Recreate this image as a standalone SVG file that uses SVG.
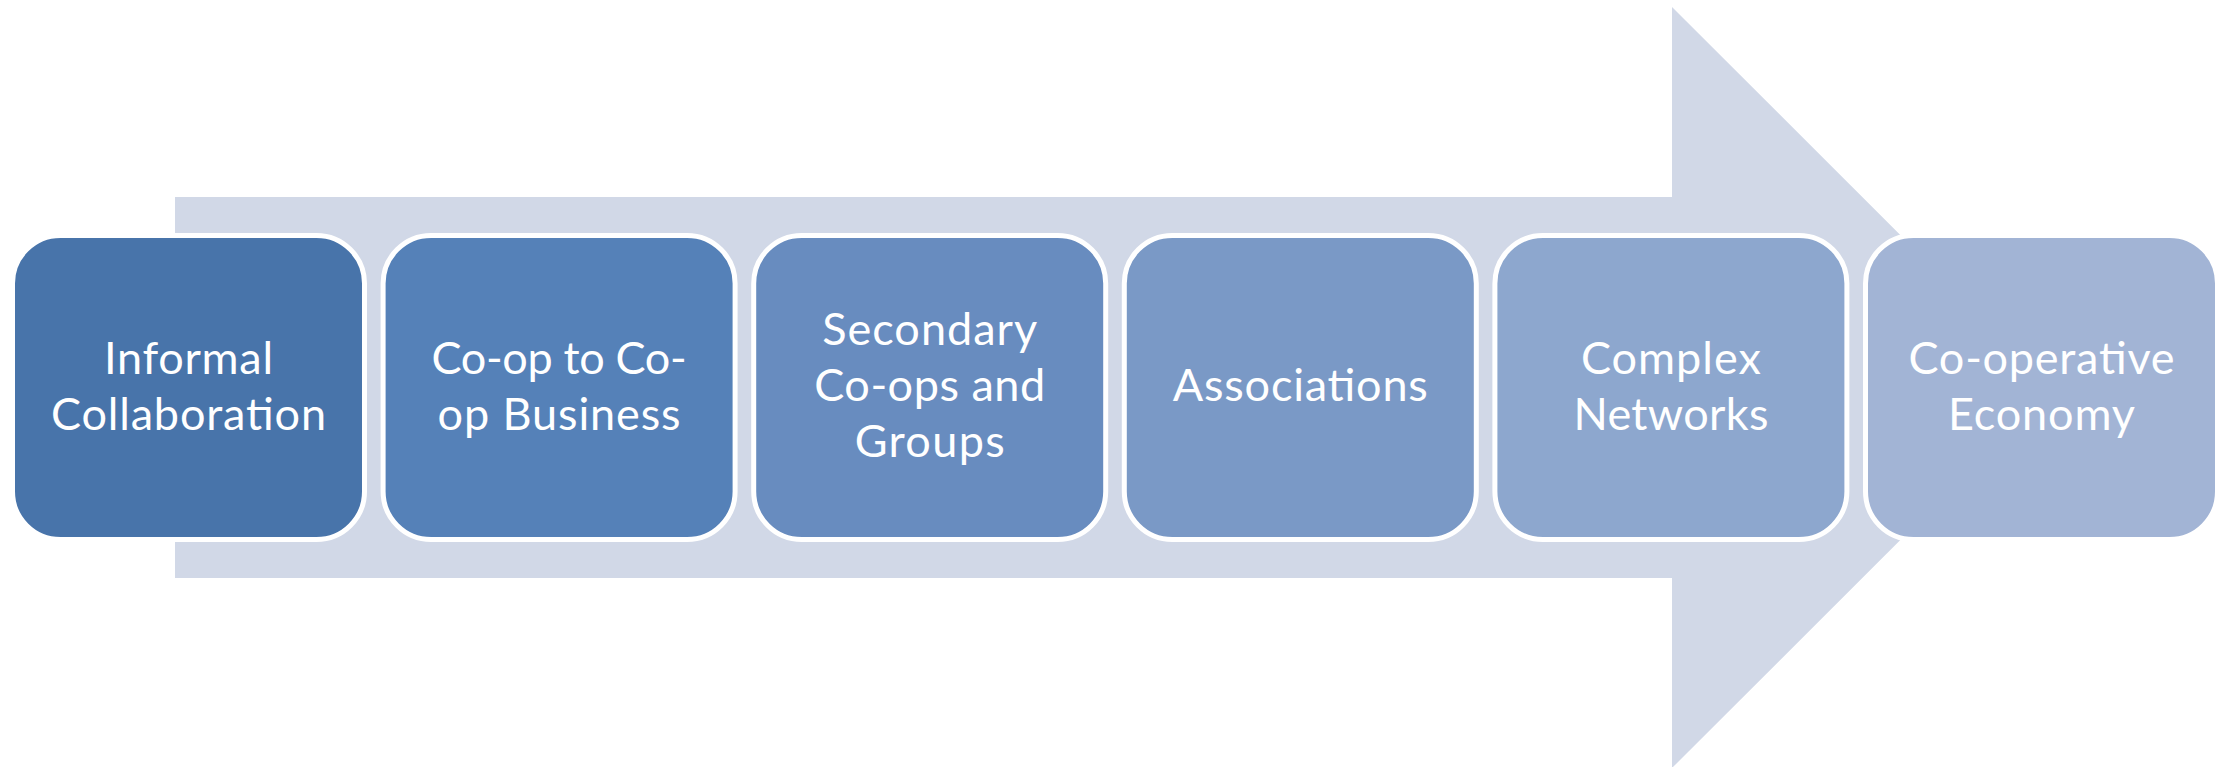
<svg xmlns="http://www.w3.org/2000/svg" width="2231" height="767" viewBox="0 0 2231 767">
<style>
.box{stroke:#FFFFFF;stroke-width:5}
.lbl{font-family:Lato,"Liberation Sans",sans-serif;font-weight:400;font-size:45px;fill:#FFFFFF;text-anchor:middle}
</style>
<rect width="2231" height="767" fill="#FFFFFF"/>
<g id="connectors">
<polygon id="arrow" points="175,197 1672,197 1672,7 2053,387.5 1672,768 1672,578 175,578" fill="#D1D8E7"/>
</g>
<g id="node1"><rect class="box" x="12.5" y="235.5" width="352" height="304" rx="48" fill="#4874AA"/>
<text class="lbl"><tspan x="188.5" y="374" textLength="169" lengthAdjust="spacing">Informal</tspan><tspan x="188.5" y="430" textLength="275" lengthAdjust="spacing">Collaboration</tspan></text></g>
<g id="node2"><rect class="box" x="383.1" y="235.5" width="352" height="304" rx="48" fill="#5581B8"/>
<text class="lbl"><tspan x="559.1" y="374" textLength="255" lengthAdjust="spacing">Co-op to Co-</tspan><tspan x="559.1" y="430" textLength="243" lengthAdjust="spacing">op Business</tspan></text></g>
<g id="node3"><rect class="box" x="753.7" y="235.5" width="352" height="304" rx="48" fill="#688CBF"/>
<text class="lbl"><tspan x="929.7" y="345" textLength="215" lengthAdjust="spacing">Secondary</tspan><tspan x="929.7" y="401" textLength="231" lengthAdjust="spacing">Co-ops and</tspan><tspan x="929.7" y="457" textLength="150" lengthAdjust="spacing">Groups</tspan></text></g>
<g id="node4"><rect class="box" x="1124.3" y="235.5" width="352" height="304" rx="48" fill="#7A99C6"/>
<text class="lbl" x="1300.3" y="401" textLength="255" lengthAdjust="spacing">Associations</text></g>
<g id="node5"><rect class="box" x="1494.9" y="235.5" width="352" height="304" rx="48" fill="#8DA7CE"/>
<text class="lbl"><tspan x="1670.9" y="374" textLength="180" lengthAdjust="spacing">Complex</tspan><tspan x="1670.9" y="430" textLength="195" lengthAdjust="spacing">Networks</tspan></text></g>
<g id="node6"><rect class="box" x="1865.5" y="235.5" width="352" height="304" rx="48" fill="#A2B4D5"/>
<text class="lbl"><tspan x="2041.5" y="374" textLength="266" lengthAdjust="spacing">Co-operative</tspan><tspan x="2041.5" y="430" textLength="187" lengthAdjust="spacing">Economy</tspan></text></g>
</svg>
